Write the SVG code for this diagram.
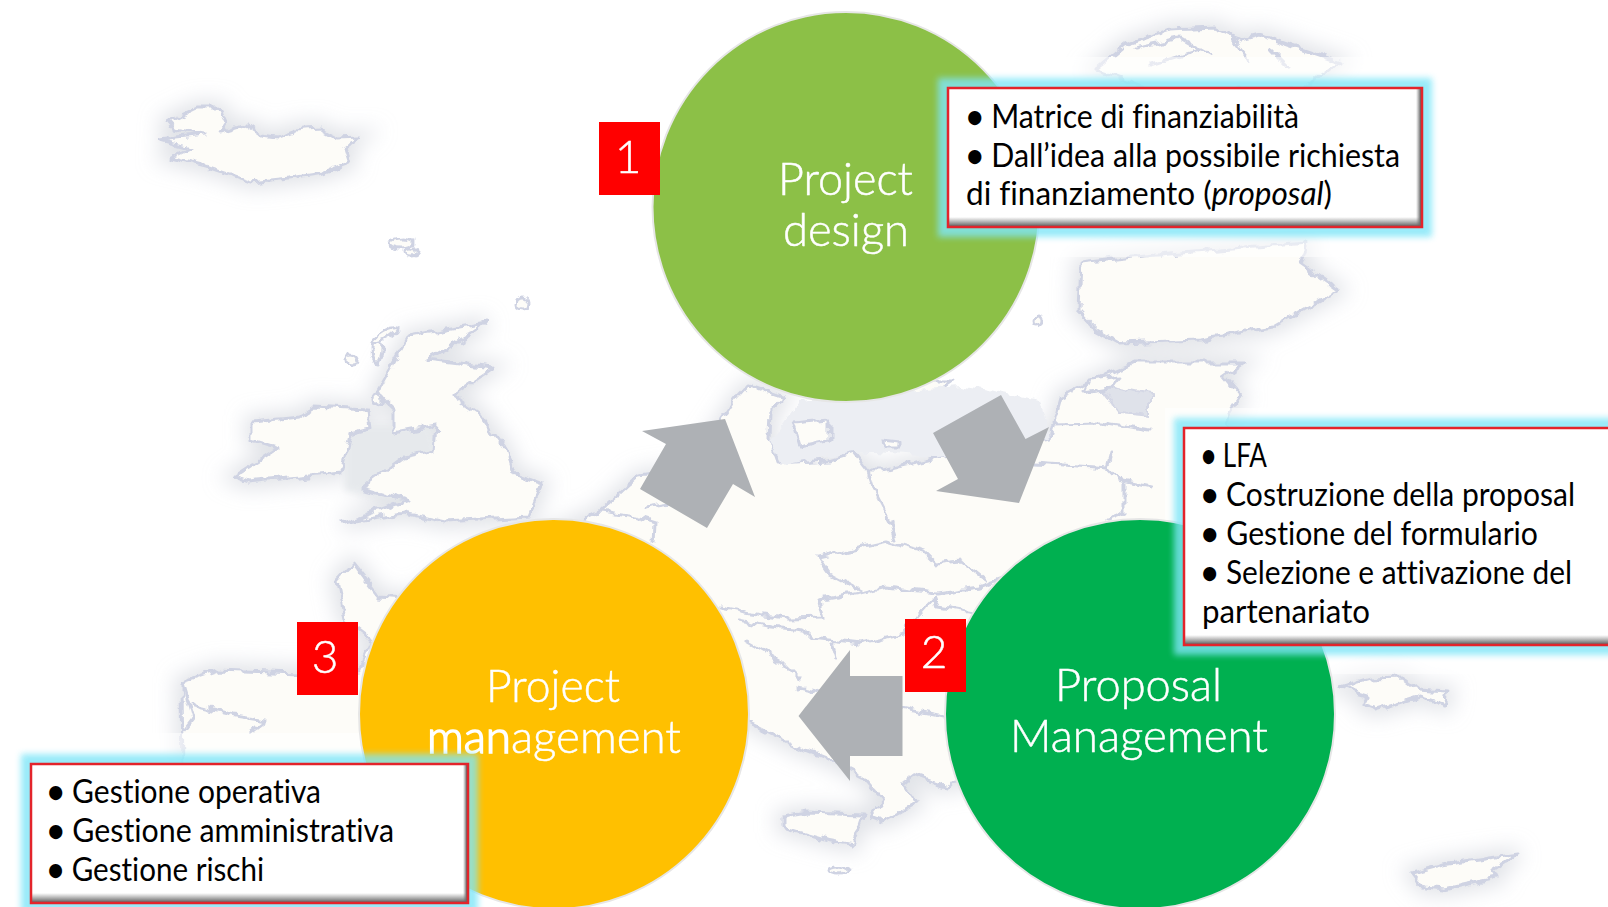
<svg xmlns="http://www.w3.org/2000/svg" width="1608" height="907" viewBox="0 0 1608 907">
<style>
.land{fill:#fdfcf8;stroke:#cfd3e3;stroke-width:3;stroke-linejoin:round}
.border{fill:none;stroke:#cfd3e3;stroke-width:3;stroke-linejoin:round;stroke-linecap:round}
.halo{fill:#c9ccd6;stroke:#c9ccd6;stroke-width:14;opacity:.55}
.circle{stroke:#e6e6e6;stroke-width:2}
.label{font-family:"Lato","Liberation Sans",sans-serif;font-weight:300;font-size:46px;fill:#fff;stroke:#fff;stroke-width:.5;font-variant-ligatures:none}
.num{font-family:"Lato","Liberation Sans",sans-serif;font-weight:300;font-size:46px;fill:#fff;stroke:#fff;stroke-width:.5;text-anchor:middle}
.body{font-family:"Lato","Liberation Sans",sans-serif;font-size:32px;fill:#000;font-variant-ligatures:none}
.dot{font-weight:700}
.badge{fill:#f00}
.arrow{fill:#aeb1b5}
.glow{fill:none;stroke:#7fe6f8;stroke-width:20;opacity:.8}
.box{fill:#fff}
.edge{fill:none;stroke:#e3242b;stroke-width:2.5}
.veil{fill:#fff;opacity:.55}
</style>
<defs>
<filter id="b10" x="-20%" y="-20%" width="140%" height="140%"><feGaussianBlur stdDeviation="10"/></filter>
<filter id="b4" x="-10%" y="-20%" width="120%" height="140%"><feGaussianBlur stdDeviation="3"/></filter>
<filter id="wobble" filterUnits="userSpaceOnUse" x="0" y="0" width="1608" height="907">
<feTurbulence type="fractalNoise" baseFrequency="0.07" numOctaves="3" seed="4" result="n"/>
<feDisplacementMap in="SourceGraphic" in2="n" scale="11" xChannelSelector="R" yChannelSelector="G"/>
<feGaussianBlur stdDeviation="0.7"/>
</filter>
<linearGradient id="sr" x1="0" x2="1" y1="0" y2="0"><stop offset="0" stop-color="#777" stop-opacity="0"/><stop offset="1" stop-color="#555"/></linearGradient>
<linearGradient id="sb" x1="0" x2="0" y1="0" y2="1"><stop offset="0" stop-color="#777" stop-opacity="0"/><stop offset="1" stop-color="#666"/></linearGradient>
<path id="iceland" d="M167 122L196 108L220 108L227 123L220 133L247 125L262 135L276 137L295 130L319 128L337 138L359 137L345 147L350 163L323 173L290 178L252 182L207 167L171 158L191 148L160 140L203 135L174 130Z"/>
<path id="britain" d="M464 327L486 323L466 337L426 360L493 368L453 395L479 413L506 450L513 473L542 483L529 517L444 522L404 513L343 523L408 500L363 487L404 457L435 450L437 425L395 433L395 410L377 393L386 377L408 337L430 333Z"/>
<path id="ireland" d="M252 422L301 417L314 407L368 410L370 428L350 433L341 473L247 482L234 477L279 448L252 440Z"/>
<path id="continent" d="M182 682L217 670L297 673L359 670L372 640L345 620L337 580L353 563L380 597L415 600L470 560L560 530L600 512L639 477L690 470L736 400L750 385L785 397L771 410L770 437L779 463L829 460L854 452L868 470L882 470L939 457L1050 437L1061 397L1105 375L1133 363L1243 363L1223 377L1240 397L1225 420L1240 450L1240 640L1300 700L1250 790L1140 800L953 780L947 787L913 775L903 783L917 803L883 822L870 817L883 800L863 777L830 760L797 747L750 723L700 700L560 760L330 780L183 780Z"/>
<path id="finland" d="M1080 263L1133 257L1307 243L1300 263L1338 290L1273 327L1200 340L1120 343L1097 330L1078 310Z"/>
<path id="north" d="M1125 45L1170 30L1215 28L1240 40L1260 35L1290 45L1340 62L1300 90L1150 90L1095 70Z"/>
<path id="sicily" d="M783 817L807 813L863 815L853 845L827 840L783 827Z"/>
<path id="turkey" d="M1340 687L1370 678L1403 677L1420 690L1448 692L1445 705L1420 697L1377 710L1363 705L1368 695Z"/>
<path id="cyprus" d="M1412 873L1443 865L1518 854L1493 870L1497 878L1445 889L1423 887Z"/>
<path id="sweden" d="M836 407L846 430L882 423L911 410L954 380L840 380Z"/>
</defs>

<rect width="1608" height="907" fill="#fff"/>
<g id="map">
<g filter="url(#b10)">
<use href="#iceland" class="halo"/><use href="#britain" class="halo"/><use href="#ireland" class="halo"/><use href="#continent" class="halo"/><use href="#finland" class="halo"/><use href="#north" class="halo"/><use href="#sicily" class="halo"/><use href="#turkey" class="halo"/><use href="#cyprus" class="halo"/>
</g>
<path d="M345 425L430 425L440 460L395 500L345 490Z" fill="#e6e9ec" filter="url(#b4)"/>
<g filter="url(#wobble)">
<use href="#iceland" class="land"/><use href="#britain" class="land"/><use href="#ireland" class="land"/><use href="#continent" class="land"/><use href="#finland" class="land"/><use href="#north" class="land"/><use href="#sicily" class="land"/><use href="#turkey" class="land"/><use href="#cyprus" class="land"/><use href="#sweden" class="land"/>
<path d="M782 465L770 440L800 400L960 385L1040 400L1050 437L939 457L854 452Z" fill="#eceef3"/>
<path d="M1100 385L1150 395L1150 415L1120 412Z" fill="#dfe2ea" stroke="#d4d7e5" stroke-width="2"/>
<path class="land" d="M793 423L829 420L829 440L800 446Z"/>
<path class="land" d="M882 440L900 442L900 448L884 448Z" fill="#eceef3"/>
<path class="land" d="M1090 380L1120 376L1110 388L1085 392Z"/>
<ellipse class="land" cx="402" cy="243" rx="11" ry="5"/><ellipse class="land" cx="412" cy="252" rx="5" ry="4"/>
<ellipse class="land" cx="523" cy="304" rx="6" ry="6"/>
<ellipse class="land" cx="352" cy="360" rx="5" ry="5"/>
<ellipse class="land" cx="377" cy="350" rx="5" ry="12"/>
<ellipse class="land" cx="378" cy="400" rx="5" ry="5"/>
<ellipse class="land" cx="385" cy="335" rx="15" ry="4" transform="rotate(-30 385 335)"/>
<ellipse class="land" cx="838" cy="870" rx="9" ry="4"/>
<ellipse class="land" cx="1037" cy="320" rx="5" ry="5"/>
<path class="border" d="M868 470L875 493L889 520L895 540M818 557L886 542L925 553L936 563L961 560L986 580M818 557L829 573L861 590M821 600L861 593L886 587L936 593L979 587L1004 578M821 600L825 617L786 618L750 613L721 607M739 620L771 627L804 630L811 637L861 643L904 633L936 597L939 607L975 613M832 643L836 657M600 512L636 517L655 523L654 543M646 507L690 500M1053 423L1100 422L1150 430M1036 463L1107 468L1118 480L1150 487M1125 483L1125 513L1107 520M1111 453L1107 468M182 682L193 720L183 733M193 705L235 715L267 720L250 733M797 687L860 700L943 717M745 640L780 660L800 680M1000 640L1030 610M1135 48L1180 38L1210 55M1230 35L1250 60M1150 65L1200 50M1270 50L1290 70"/>
</g>
<rect class="veil" x="930" y="57" width="520" height="200"/>
<rect class="veil" x="1165" y="408" width="443" height="266"/>
<rect class="veil" x="0" y="733" width="490" height="174"/>
</g>

<g id="connectors">
<path class="arrow" d="M725 419L755 497L733 484L707 528L640 489L666 444L642 431Z"/>
<path class="arrow" d="M1001 395L1025.500 439L1049 427L1019 503L936 491L958 479L933 433Z"/>
<path class="arrow" d="M798.500 716L850 650L850 676L902.500 676L902.500 756L850 756L850 781Z"/>
</g>

<g id="node-design">
<ellipse class="circle" cx="846" cy="207" rx="193.500" ry="195" fill="#8cc047"/>
</g>
<g id="node-proposal">
<ellipse class="circle" cx="1140" cy="714" rx="195" ry="195" fill="#00b050"/>
</g>
<g id="node-management">
<ellipse class="circle" cx="554" cy="714" rx="195" ry="195" fill="#ffc000"/>
</g>

<g id="label-design">
<text class="label" x="778" y="195" textLength="135" lengthAdjust="spacingAndGlyphs">Project</text>
<text class="label" x="783" y="246" textLength="126" lengthAdjust="spacingAndGlyphs">design</text>
</g>
<g id="label-proposal">
<text class="label" x="1055" y="701" textLength="167" lengthAdjust="spacingAndGlyphs">Proposal</text>
<text class="label" x="1010" y="752" textLength="258" lengthAdjust="spacingAndGlyphs">Management</text>
</g>
<g id="label-management">
<text class="label" x="486" y="702" textLength="134" lengthAdjust="spacingAndGlyphs">Project</text>
<text class="label" x="427" y="753" textLength="254" lengthAdjust="spacingAndGlyphs"><tspan stroke-width="1.6">man</tspan>agement</text>
</g>

<g id="badge-1"><rect class="badge" x="599" y="122" width="61" height="73"/><text class="num" x="628" y="173">1</text></g>
<g id="badge-2"><rect class="badge" x="905" y="619" width="61" height="73"/><text class="num" x="934" y="668">2</text></g>
<g id="badge-3"><rect class="badge" x="297" y="622" width="61" height="73"/><text class="num" x="325" y="673">3</text></g>

<g id="box-1">
<rect class="glow" x="948" y="88" width="474" height="139" filter="url(#b4)"/>
<rect class="box" x="948" y="88" width="474" height="139"/>
<rect x="1416" y="89" width="5" height="137" fill="url(#sr)"/>
<rect x="949" y="217" width="472" height="9" fill="url(#sb)"/>
<rect class="edge" x="948" y="88" width="474" height="139"/>
<text class="body" x="966" y="128" textLength="333" lengthAdjust="spacingAndGlyphs"><tspan class="dot">•</tspan> Matrice di finanziabilità</text>
<text class="body" x="966" y="167" textLength="434" lengthAdjust="spacingAndGlyphs"><tspan class="dot">•</tspan> Dall’idea alla possibile richiesta</text>
<text class="body" x="966" y="205" textLength="366" lengthAdjust="spacingAndGlyphs">di finanziamento (<tspan font-style="italic">proposal</tspan>)</text>
</g>
<g id="box-2">
<rect class="glow" x="1184" y="428" width="450" height="217" filter="url(#b4)"/>
<rect class="box" x="1184" y="428" width="450" height="217"/>
<rect x="1185" y="635" width="450" height="9" fill="url(#sb)"/>
<rect class="edge" x="1184" y="428" width="450" height="217"/>
<text class="body" x="1201" y="467" textLength="66" lengthAdjust="spacingAndGlyphs"><tspan class="dot">•</tspan> LFA</text>
<text class="body" x="1201" y="506" textLength="374" lengthAdjust="spacingAndGlyphs"><tspan class="dot">•</tspan> Costruzione della proposal</text>
<text class="body" x="1201" y="545" textLength="337" lengthAdjust="spacingAndGlyphs"><tspan class="dot">•</tspan> Gestione del formulario</text>
<text class="body" x="1201" y="584" textLength="371" lengthAdjust="spacingAndGlyphs"><tspan class="dot">•</tspan> Selezione e attivazione del</text>
<text class="body" x="1202" y="623" textLength="168" lengthAdjust="spacingAndGlyphs">partenariato</text>
</g>
<g id="box-3">
<rect class="glow" x="31" y="764" width="437" height="139" filter="url(#b4)"/>
<rect class="box" x="31" y="764" width="437" height="139"/>
<rect x="463" y="765" width="4" height="137" fill="url(#sr)"/>
<rect x="32" y="893" width="435" height="9" fill="url(#sb)"/>
<rect class="edge" x="31" y="764" width="437" height="139"/>
<text class="body" x="47" y="803" textLength="274" lengthAdjust="spacingAndGlyphs"><tspan class="dot">•</tspan> Gestione operativa</text>
<text class="body" x="47" y="842" textLength="347" lengthAdjust="spacingAndGlyphs"><tspan class="dot">•</tspan> Gestione amministrativa</text>
<text class="body" x="47" y="881" textLength="217" lengthAdjust="spacingAndGlyphs"><tspan class="dot">•</tspan> Gestione rischi</text>
</g>
</svg>
